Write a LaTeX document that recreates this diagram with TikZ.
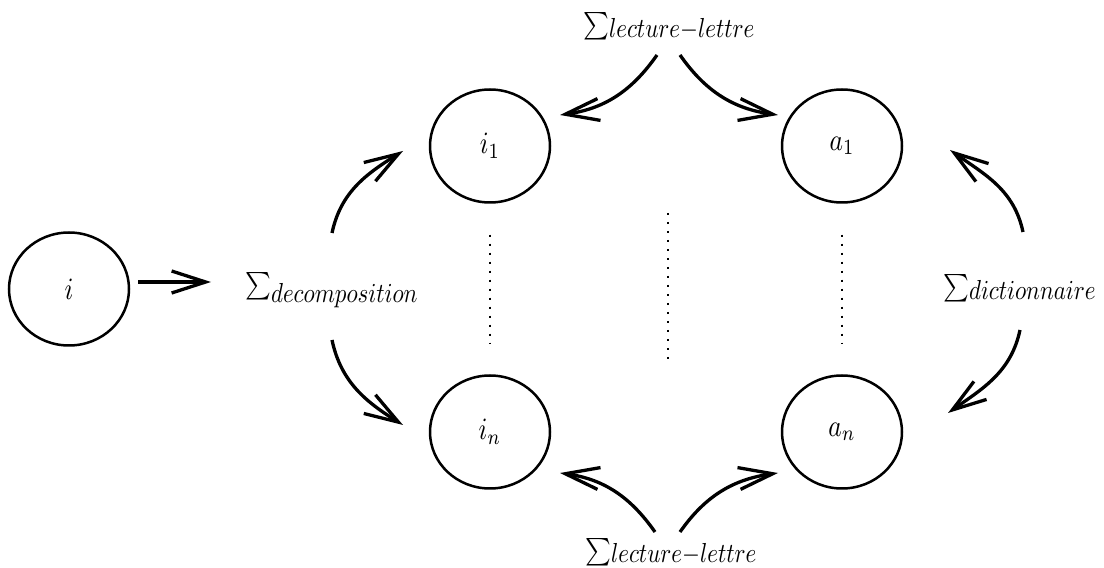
\documentclass[tikz,border=0pt]{standalone}
\usetikzlibrary{arrows.meta,shapes.geometric}
\newcommand{\bx}[1]{\scalebox{2.55}[3.1]{$#1$}}
\newcommand{\sumlab}[2]{\scalebox{2.45}[2.75]{$\sum$}\raisebox{-#2pt}{\scalebox{2.3}[2.75]{$\textstyle #1$}}}
\tikzset{
  st/.style={draw,ellipse,line width=2.5pt,minimum width=120pt,minimum height=113pt,inner sep=0pt},
  lab/.style={inner sep=0pt},
  arr/.style={line width=3.3pt,-{Straight Barb[length=34pt,width=22pt,line width=3.3pt]}},
  dotline/.style={line width=2.3pt,dash pattern=on 2.4pt off 6.6pt}
}
\begin{document}
\begin{tikzpicture}[x=1pt,y=1pt]
\useasboundingbox (0,0) rectangle (1104,568);
% states
\node[st] (i)  at (69,279)  {\bx{i}};
\node[st] (i1) at (490,422) {\bx{i_1}};
\node[st] (a1) at (842,422) {\bx{a_1}};
\node[st] (in) at (490,136) {\bx{i_n}};
\node[st] (an) at (842,136) {\bx{a_n}};
% labels
\node[lab,anchor=base west] (dec) at (245,275) {\sumlab{decomposition}{10}};
\node[lab,anchor=base west] (lt)  at (583,535) {\sumlab{lecture\mathord{-}lettre}{5}};
\node[lab,anchor=base west] (lb)  at (585,9)   {\sumlab{lecture\mathord{-}lettre}{3}};
\node[lab,anchor=base west] (dic) at (943,273) {\sumlab{dictionnaire}{5}};
% connector end points
\coordinate (c0s) at (138,286);  \coordinate (c0e) at (211,286);
\coordinate (d1s) at (332,335);  \coordinate (d1e) at (403,417);
\coordinate (d2s) at (332,228);  \coordinate (d2e) at (403,143);
\coordinate (t1s) at (657,513);  \coordinate (t1e) at (560,453);
\coordinate (t2s) at (680,513);  \coordinate (t2e) at (778,453);
\coordinate (b1s) at (655,36);   \coordinate (b1e) at (560,95);
\coordinate (b2s) at (680,36);   \coordinate (b2e) at (778,95);
\coordinate (r1s) at (1023,336); \coordinate (r1e) at (950,418);
\coordinate (r2s) at (1020,238); \coordinate (r2e) at (948,155);
\coordinate (m1) at (668,355);   \coordinate (m2) at (668,204);
% arrows
\draw[arr] (c0s) -- (c0e);
\draw[arr] (d1s) to[out=78,in=212] (d1e);
\draw[arr] (d2s) to[out=-78,in=148] (d2e);
\draw[arr] (t1s) to[out=235,in=8] (t1e);
\draw[arr] (t2s) to[out=-55,in=172] (t2e);
\draw[arr] (b1s) to[out=125,in=-8] (b1e);
\draw[arr] (b2s) to[out=55,in=188] (b2e);
\draw[arr] (r1s) to[out=102,in=-35] (r1e);
\draw[arr] (r2s) to[out=-102,in=35] (r2e);
% dotted lines
\draw[dotline,shorten <=31pt,shorten >=31pt] (i1) -- (in);
\draw[dotline,shorten <=31pt,shorten >=31pt] (a1) -- (an);
\draw[dotline] (m1) -- (m2);
\end{tikzpicture}
\end{document}
